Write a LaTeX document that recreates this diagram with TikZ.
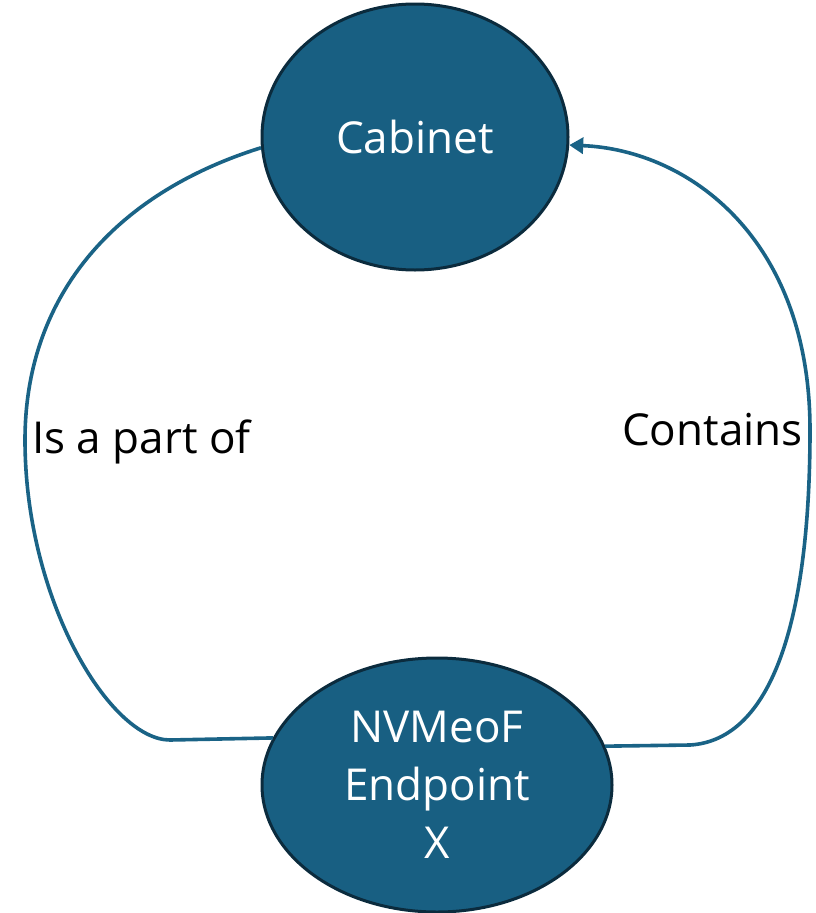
\documentclass[tikz,border=0pt]{standalone}
\usepackage{fontspec}
\setmainfont{Open Sans}
\usetikzlibrary{shapes.geometric,arrows.meta}
\definecolor{entfill}{HTML}{185F82}
\definecolor{entedge}{HTML}{0B2B3D}
\definecolor{relline}{HTML}{1A6386}
\tikzset{
  entity/.style={ellipse, draw=entedge, line width=3pt, fill=entfill,
    text=white, inner sep=0pt, align=center,
    font=\fontsize{44}{58}\selectfont},
  relation/.style={draw=relline, line width=3.6pt},
  rellabel/.style={inner sep=0pt, anchor=west, text=black,
    font=\fontsize{44}{52}\selectfont}
}
\begin{document}
\begin{tikzpicture}[x=1pt,y=-1pt]
\useasboundingbox (0,0) rectangle (815,913);
\node[entity, minimum width=306pt, minimum height=266pt] (cab) at (415,137) {Cabinet};
\node[entity, minimum width=350pt, minimum height=254pt] (ep) at (437,785)
  {NVMeoF\\Endpoint\\X};
\coordinate (lm) at (25,440);
\coordinate (lb) at (170,740);
\coordinate (rb) at (690,745);
\coordinate (rm) at (810,430);
% part-of relation, no arrow tip
\draw[relation] (cab.184) .. controls (110,195) and (25,300) .. (lm)
  .. controls (25,600) and (110,740) .. (lb) -- (ep.164);
% contains relation, arrow into the cabinet
\draw[relation, -{Triangle[length=14pt,width=16pt]}] (ep.13) -- (rb)
  .. controls (772,740) and (810,620) .. (rm)
  .. controls (810,240) and (690,150) .. (cab.-3);
\node[rellabel] (lp) at (32,442) {Is a part of};
\node[rellabel] (lc) at (622,430) {Contains};
\end{tikzpicture}
\end{document}
